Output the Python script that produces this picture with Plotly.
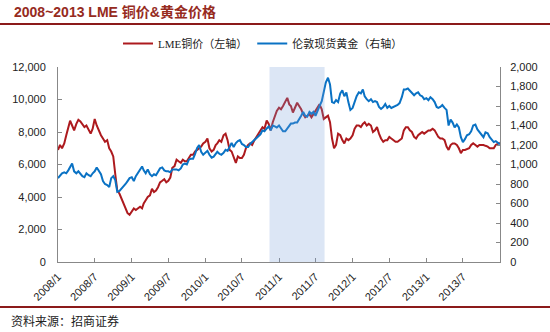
import plotly.graph_objects as go

# ---- data (3 samples per month) ----
dates = [f"{y}-{m:02d}-{d:02d}" for y in range(2008, 2014) for m in range(1, 13) for d in (1, 11, 21)] + ["2013-12-31"]

copper = [
    # 2008
    6900, 7200, 7000, 7300, 7800, 8300, 8700, 8400, 8100, 8500, 8750, 8650,
    8500, 8300, 8400, 8100, 7900, 8200, 8800, 8400, 8100, 7800, 7600, 7400,
    7500, 7000, 6800, 6500, 5400, 4400, 4200, 3900, 3600, 3300, 3000, 2900,
    # 2009
    3100, 3300, 3200, 3300, 3400, 3300, 3600, 3800, 4000, 4100, 4500, 4300,
    4400, 4600, 4900, 5000, 5100, 4900, 5000, 5200, 5800, 5900, 6300, 6200,
    6100, 6300, 6200, 6200, 6400, 6600, 6600, 6800, 6900, 7000, 7100, 7300,
    # 2010
    7400, 7600, 7000, 6800, 6900, 7200, 7300, 7500, 7400, 7800, 7900, 7500,
    6900, 6800, 6400, 6100, 6500, 6400, 6400, 6600, 7000, 7200, 7300, 7200,
    7500, 7700, 7900, 8100, 8300, 8200, 8700, 8500, 8100, 8600, 9000, 9300,
    # 2011
    9500, 9400, 9600, 9900, 10100, 9700, 9600, 9200, 9500, 9800, 9600, 9400,
    9100, 8900, 9000, 9100, 8900, 9100, 9300, 9500, 9700, 9400, 8800, 8900,
    9000, 8600, 7600, 7000, 7200, 7900, 7800, 7500, 7300, 7600, 7500, 7600,
    # 2012
    7800, 8200, 8400, 8400, 8300, 8500, 8600, 8400, 8500, 8400, 8000, 8100,
    8300, 7900, 7600, 7400, 7500, 7500, 7700, 7600, 7500, 7400, 7400, 7500,
    7600, 8100, 8300, 8300, 8100, 8000, 7700, 7600, 7800, 7900, 8000, 7900,
    # 2013
    8000, 8100, 8100, 8200, 8100, 7900, 7700, 7600, 7600, 7500, 7100, 6900,
    7200, 7300, 7300, 7200, 7000, 6700, 6900, 6900, 6950, 7000, 7200, 7300,
    7200, 7100, 7200, 7200, 7200, 7150, 7100, 7000, 7000, 7000, 7200, 7300,
    7350,
]

gold = [
    # 2008
    860, 890, 910, 920, 910, 940, 980, 1010, 930, 910, 930, 900,
    880, 870, 910, 890, 880, 910, 930, 970, 940, 900, 830, 800,
    790, 770, 860, 880, 840, 720, 730, 750, 780, 800, 830, 860,
    # 2009
    870, 830, 880, 920, 950, 980, 940, 910, 950, 900, 880, 900,
    890, 930, 960, 970, 940, 930, 930, 920, 950, 950, 950, 940,
    960, 1000, 1010, 1000, 1050, 1060, 1060, 1110, 1170, 1200, 1130, 1100,
    # 2010
    1120, 1140, 1100, 1070, 1080, 1110, 1130, 1110, 1100, 1120, 1150, 1140,
    1180, 1220, 1180, 1220, 1240, 1250, 1210, 1200, 1180, 1180, 1210, 1230,
    1250, 1270, 1290, 1310, 1350, 1340, 1370, 1390, 1350, 1400, 1390, 1380,
    # 2011
    1400, 1370, 1340, 1340, 1370, 1400, 1420, 1420, 1430, 1430, 1460, 1500,
    1540, 1500, 1490, 1540, 1520, 1540, 1500, 1560, 1600, 1650, 1760, 1840,
    1890, 1820, 1640, 1630, 1660, 1640, 1730, 1760, 1700, 1740, 1640, 1560,
    # 2012
    1580, 1640, 1700, 1740, 1730, 1770, 1700, 1670, 1650, 1670, 1640, 1650,
    1640, 1590, 1570, 1590, 1620, 1580, 1600, 1580, 1590, 1600, 1610, 1630,
    1690, 1770, 1770, 1780, 1760, 1730, 1710, 1730, 1740, 1710, 1700, 1670,
    # 2013
    1680, 1660, 1690, 1670, 1640, 1590, 1580, 1590, 1610, 1580, 1560, 1400,
    1460, 1430, 1380, 1410, 1380, 1280, 1230, 1260, 1300, 1310, 1340, 1400,
    1410, 1360, 1330, 1310, 1280, 1330, 1320, 1280, 1250, 1230, 1240, 1220,
    1205,
]

tick_dates = ["2008-01-01", "2008-07-01", "2009-01-01", "2009-07-01", "2010-01-01", "2010-07-01",
              "2011-01-01", "2011-07-01", "2012-01-01", "2012-07-01", "2013-01-01", "2013-07-01"]
tick_labels = ["2008/1", "2008/7", "2009/1", "2009/7", "2010/1", "2010/7",
               "2011/1", "2011/7", "2012/1", "2012/7", "2013/1", "2013/7"]
shade_start, shade_end = "2010-11-15", "2011-08-15"

RED = "#AD1A1E"
BLUE = "#0A72C4"
DARK = "#8B1A1A"
TXT = "#222222"
FONT = "Liberation Sans, Arial, Noto Sans CJK SC"

fig = go.Figure()
fig.add_trace(go.Scatter(x=dates, y=copper, name="LME铜价（左轴）", mode="lines",
                         line=dict(color=RED, width=2), yaxis="y"))
fig.add_trace(go.Scatter(x=dates, y=gold, name="伦敦现货黄金（右轴）", mode="lines",
                         line=dict(color=BLUE, width=2), yaxis="y2"))

fig.add_shape(type="rect", xref="x", yref="paper", x0=shade_start, x1=shade_end, y0=0, y1=1,
              fillcolor="rgb(116,156,216)", opacity=0.25, line_width=0, layer="above")

# header / footer rules
fig.add_shape(type="line", xref="paper", yref="paper", x0=-58/442, x1=(550-58)/442,
              y0=(262-24)/195, y1=(262-24)/195, line=dict(color=DARK, width=2))
fig.add_shape(type="line", xref="paper", yref="paper", x0=-58/442, x1=(550-58)/442,
              y0=(262-307)/195, y1=(262-307)/195, line=dict(color=DARK, width=2))

fig.add_annotation(text="<b>2008~2013 LME 铜价&黄金价格</b>", xref="paper", yref="paper",
                   x=(12-58)/442, y=(262-12)/195, xanchor="left", yanchor="middle",
                   showarrow=False, font=dict(family=FONT, size=14, color="#962B1E"))
fig.add_annotation(text="资料来源：招商证券", xref="paper", yref="paper",
                   x=(9-58)/442, y=(262-320)/195, xanchor="left", yanchor="middle",
                   showarrow=False, font=dict(family="Noto Sans CJK SC", size=12, color=TXT))

axis_common = dict(showline=True, linecolor="#888888", linewidth=1, ticks="inside", ticklen=4,
                   tickcolor="#888888", showgrid=False, zeroline=False,
                   tickfont=dict(family=FONT, size=11, color=TXT))

fig.update_layout(
    width=550, height=332,
    margin=dict(l=58, r=50, t=67, b=70),
    paper_bgcolor="white", plot_bgcolor="white",
    showlegend=True,
    legend=dict(orientation="h", x=(118-58)/442, xanchor="left", y=(262-43.5)/195, yanchor="middle",
                font=dict(family="Liberation Serif, Noto Sans CJK SC", size=11, color=TXT),
                itemwidth=30, bgcolor="rgba(0,0,0,0)"),
    xaxis=dict(type="date", range=["2008-01-01", "2014-01-01"], tickvals=tick_dates, ticktext=tick_labels,
               tickangle=-45, ticklabelstandoff=3, **axis_common),
    yaxis=dict(range=[0, 12000], dtick=2000, tickformat=",", ticklabelstandoff=9, **axis_common),
    yaxis2=dict(range=[0, 2000], dtick=200, tickformat=",", overlaying="y", side="right",
                ticklabelstandoff=7, **axis_common),
)

fig.write_html("out.html")
